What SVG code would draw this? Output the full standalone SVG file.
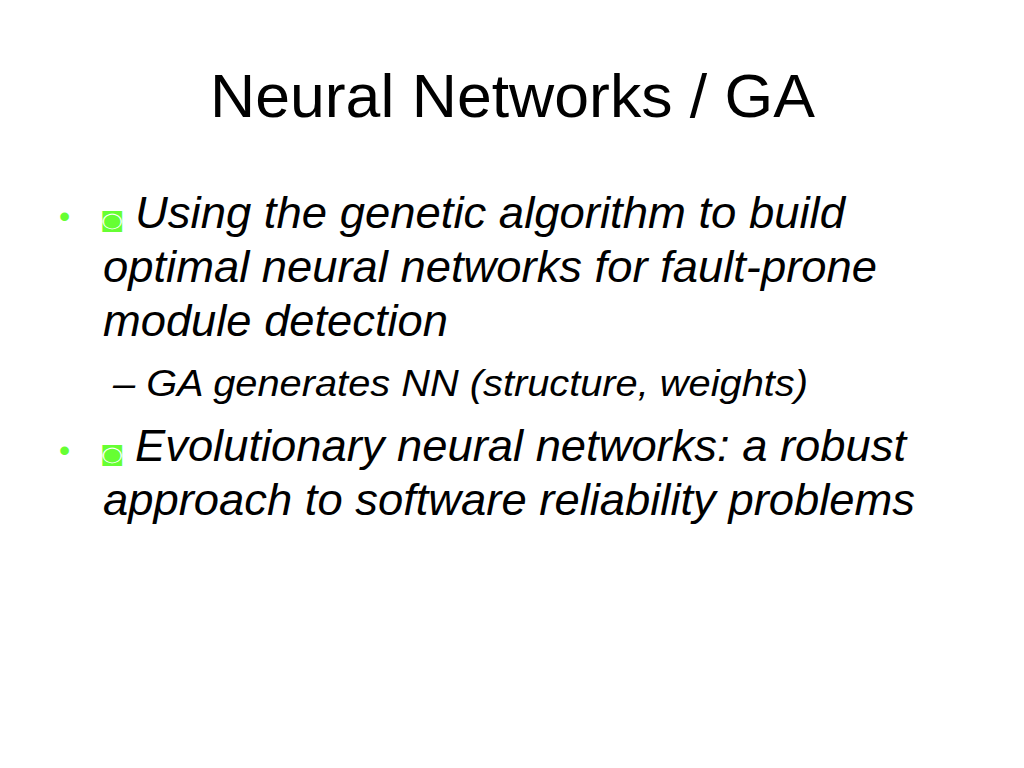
<svg xmlns="http://www.w3.org/2000/svg" width="1024" height="768" viewBox="0 0 1024 768">
<style>
.title{font-family:"Liberation Sans",Arial,sans-serif;font-size:61px;fill:#000}
.body{font-family:"Liberation Sans",Arial,sans-serif;font-style:italic;font-size:45px;fill:#000}
.sub{font-family:"Liberation Sans",Arial,sans-serif;font-style:italic;font-size:36px;fill:#000}
.dot{font-family:"Liberation Sans",Arial,sans-serif;font-size:32px;fill:#66ff33}
.icon{font-family:"DejaVu Sans",sans-serif;font-size:25px;fill:#66ff33}
</style>
<rect width="1024" height="768" fill="#fff"/>
<g id="title"><text class="title" x="210" y="117" textLength="605" lengthAdjust="spacingAndGlyphs">Neural Networks / GA</text></g>
<g id="bullet1">
<text class="dot" x="59" y="227">•</text>
<text class="icon" transform="translate(100,227) scale(1,0.84)">◙</text>
<text class="body" x="135" y="228" textLength="710" lengthAdjust="spacingAndGlyphs">Using the genetic algorithm to build</text>
<text class="body" x="103" y="282" textLength="774" lengthAdjust="spacingAndGlyphs">optimal neural networks for fault-prone</text>
<text class="body" x="103" y="336" textLength="345" lengthAdjust="spacingAndGlyphs">module detection</text>
</g>
<g id="sub1"><text class="sub" x="113" y="396" textLength="695" lengthAdjust="spacingAndGlyphs">– GA generates NN (structure, weights)</text></g>
<g id="bullet2">
<text class="dot" x="59" y="461">•</text>
<text class="icon" transform="translate(100,461) scale(1,0.84)">◙</text>
<text class="body" x="135" y="461" textLength="771" lengthAdjust="spacingAndGlyphs">Evolutionary neural networks: a robust</text>
<text class="body" x="103" y="515" textLength="812" lengthAdjust="spacingAndGlyphs">approach to software reliability problems</text>
</g>
</svg>
